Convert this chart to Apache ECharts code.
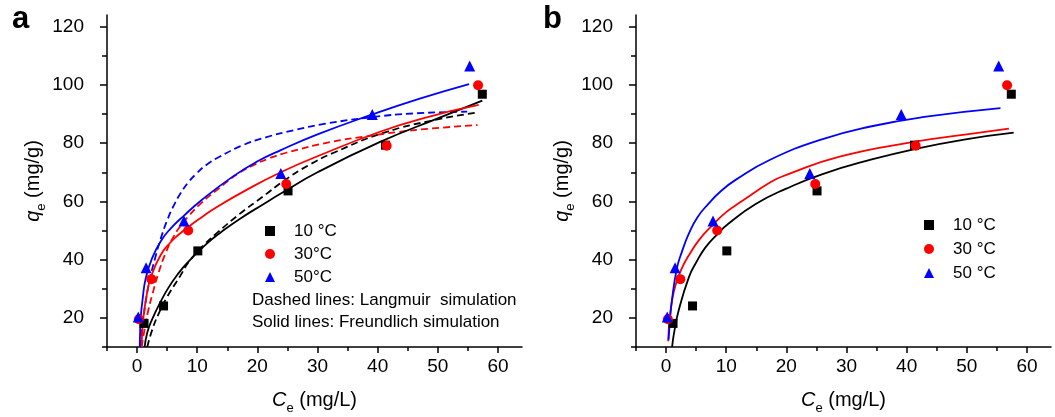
<!DOCTYPE html>
<html>
<head>
<meta charset="utf-8">
<script src="https://cdn.jsdelivr.net/npm/echarts@6/dist/echarts.min.js"></script>
<style>
html,body{margin:0;padding:0;background:#fff;}
#chart{width:1055px;height:417px;}
</style>
</head>
<body>
<div id="chart"></div>
<script>
// ---- tick labels ----
const xMajorTicks = [0, 10, 20, 30, 40, 50, 60];
const xMinorTicks = [-5, 5, 15, 25, 35, 45, 55];
const yMajorTicks = [20, 40, 60, 80, 100, 120];
const yMinorTicks = [10, 30, 50, 70, 90, 110];

// ---- experimental data (Ce mg/L, qe mg/g) ----
const ce10 = [1.16, 4.4, 10.1, 25.1, 41.3, 57.4];
const qe10 = [18.1, 24.1, 43.0, 63.6, 79.3, 96.8];
const ce30 = [0.3, 2.37, 8.5, 24.8, 41.5, 56.7];
const qe30 = [19.5, 33.3, 50.0, 66.0, 79.1, 99.9];
const ce50 = [0.2, 1.5, 7.8, 23.9, 39.1, 55.3];
const qe50 = [20.3, 37.2, 53.3, 69.6, 89.8, 106.5];

// ---- panel a: Langmuir simulation curves (dashed) ----
const langA10 = [[1.7,10],[2.5,15.8],[3.6,21.5],[5,27.2],[7.2,34.5],[8.7,39.5],[11,44.8],[13.2,49],[17,55.6],[20.9,61.6],[24.5,67.2],[28.5,72.4],[32.8,76.8],[41.1,83.6],[49.4,87.9],[56.8,90.6]];
const langA30 = [[0.75,10],[1.2,15.5],[1.8,22],[2.6,28.5],[3.5,35],[4.7,42],[6.1,48],[7.5,52.3],[8.5,54.8],[10.7,59.5],[13.2,63.8],[15.1,67],[17,69.8],[19.2,72.3],[22,74.8],[24.8,76.7],[32.2,80.4],[37.7,82.2],[43.3,83.8],[48.8,85],[56.6,86.2]];
const langA50 = [[0.55,10],[0.9,17],[1.43,25.5],[2.2,34],[3,40.5],[3.9,47],[5.1,54],[6.2,59],[7.3,63],[8.5,66.5],[9.8,69.4],[11.5,72.5],[13.7,75.3],[17.6,79.3],[21.4,82],[26,84.4],[31.1,86.6],[39.4,89],[46,90.2],[54.9,90.8]];

// ---- panel a: Freundlich simulation curves (solid) ----
const freuA10 = [[1.26,10],[1.7,15],[2.5,19.5],[3.9,25.5],[5.2,30.3],[6.7,34.8],[8.3,38.8],[11.5,45.3],[14,49.5],[17,53.9],[21.2,59.3],[23.9,62.7],[30,70],[40.5,80.5],[50,88.5],[57.4,94.6]];
const freuA30 = [[0.75,10],[0.85,15],[1.1,21],[1.7,29],[2.3,34],[3.9,41.5],[5.5,45.8],[6.7,48.2],[8.5,51.2],[10.7,54.5],[13.2,58],[18.5,64.3],[23.9,70],[30,75.5],[40.5,84],[48,88.8],[56.8,93.1]];
const freuA50 = [[0.45,10],[0.5,15],[0.6,20],[0.9,26],[1.43,33.5],[2.5,40.5],[4,46.5],[5.5,50.5],[7.9,55.3],[10.7,60.4],[15.9,68.5],[19.8,73.5],[23.9,77.6],[30,83],[38.9,89.7],[47,95.3],[55.2,100.3]];

// ---- panel b: fitted curves (solid) ----
const fitB10 = [[1.0,10],[1.3,14.5],[2.1,22.6],[3.8,34],[5,39],[6.55,44.2],[8.5,48.7],[10.4,52.4],[14.9,59.1],[19.9,64.3],[25.9,69.3],[34.2,74.4],[41.4,78],[49.8,81.3],[57.8,83.6]];
const fitB30 = [[0.35,12],[0.6,20],[1,26],[1.55,31],[2.5,36.5],[3.8,41.5],[5.5,46.8],[7.7,51.8],[10,56.3],[12.7,60.2],[17.55,66.8],[19.9,69],[28.7,75.3],[41.4,80.5],[50,83],[57,85]];
const fitB50 = [[0.42,12.5],[0.6,18],[1,26.5],[1.8,37],[2.6,42.5],[3.8,49],[5.2,54.5],[7.1,59.3],[9,63.3],[11.5,67.3],[17.3,74.3],[25.9,81.3],[34.2,85.8],[42.6,88.9],[55.6,92]];

const legendA = ['10 °C', '30°C', '50°C'];
const legendB = ['10 °C', '30 °C', '50 °C'];

const FONT = 'Liberation Sans, Arial, sans-serif';
const BLACK = '#000000', RED = '#ff0000', BLUE = '#0000ff';

function zip(xs, ys) { return xs.map((x, i) => [x, ys[i]]); }

const nameRich = {
  i: { fontStyle: 'italic', fontSize: 20, color: '#000', fontFamily: FONT, verticalAlign: 'bottom', padding: [0, 0, 5, 0] },
  s: { fontSize: 13, color: '#000', fontFamily: FONT, verticalAlign: 'bottom' },
  n: { fontSize: 20, color: '#000', fontFamily: FONT, verticalAlign: 'bottom', padding: [0, 0, 5, 0] }
};

function mainX(g) {
  return {
    type: 'value', gridIndex: g, min: -5, max: 64, position: 'bottom',
    splitLine: { show: false },
    axisLine: { onZero: false, lineStyle: { color: BLACK, width: 1.5 } },
    axisTick: { customValues: xMajorTicks, length: 6, lineStyle: { color: BLACK, width: 1.5 } },
    axisLabel: { customValues: xMajorTicks, color: BLACK, fontSize: 19, fontFamily: FONT, margin: 10 },
    name: '{i|C}{s|e}{n| (mg/L)}', nameLocation: 'middle', nameGap: 43,
    nameTextStyle: { rich: nameRich }
  };
}
function minorX(g) {
  return {
    type: 'value', gridIndex: g, min: -5, max: 64, position: 'bottom', offset: 0,
    splitLine: { show: false },
    axisLine: { show: false, onZero: false },
    axisTick: { customValues: xMinorTicks, length: 4, lineStyle: { color: BLACK, width: 1.5 } },
    axisLabel: { show: false }
  };
}
function mainY(g) {
  return {
    type: 'value', gridIndex: g, min: 10, max: 124, position: 'left',
    splitLine: { show: false },
    axisLine: { onZero: false, lineStyle: { color: BLACK, width: 1.5 } },
    axisTick: { customValues: yMajorTicks, length: 7, lineStyle: { color: BLACK, width: 1.5 } },
    axisLabel: { customValues: yMajorTicks, color: BLACK, fontSize: 19, fontFamily: FONT, margin: 23 },
    name: '{i|q}{s|e}{n| (mg/g)}', nameLocation: 'middle', nameGap: 41,
    nameTextStyle: { rich: nameRich }
  };
}
function minorY(g) {
  return {
    type: 'value', gridIndex: g, min: 10, max: 124, position: 'left', offset: 0,
    splitLine: { show: false },
    axisLine: { show: false, onZero: false },
    axisTick: { customValues: yMinorTicks, length: 5, lineStyle: { color: BLACK, width: 1.5 } },
    axisLabel: { show: false }
  };
}

function scatter(name, xi, yi, symbol, size, color, data) {
  return { type: 'scatter', name: name, xAxisIndex: xi, yAxisIndex: yi, symbol: symbol, symbolSize: size,
    itemStyle: { color: color, opacity: 1 }, data: data, z: 5, silent: true };
}
function curve(name, xi, yi, color, dashed, data) {
  return { type: 'line', name: name, xAxisIndex: xi, yAxisIndex: yi, data: data, showSymbol: false,
    smooth: 0.5, clip: true, silent: true, z: 3,
    lineStyle: { color: color, width: 1.8, type: dashed ? [7, 4] : 'solid' } };
}

const series = [
  curve('L10a', 0, 0, BLACK, true, langA10),
  curve('L30a', 0, 0, RED, true, langA30),
  curve('L50a', 0, 0, BLUE, true, langA50),
  curve('F10a', 0, 0, BLACK, false, freuA10),
  curve('F30a', 0, 0, RED, false, freuA30),
  curve('F50a', 0, 0, BLUE, false, freuA50),
  scatter(legendA[0], 0, 0, 'rect', 9, BLACK, zip(ce10, qe10)),
  scatter(legendA[1], 0, 0, 'circle', 10, RED, zip(ce30, qe30)),
  scatter(legendA[2], 0, 0, 'triangle', 11, BLUE, zip(ce50, qe50)),
  curve('T10b', 2, 2, BLACK, false, fitB10),
  curve('T30b', 2, 2, RED, false, fitB30),
  curve('T50b', 2, 2, BLUE, false, fitB50),
  scatter(legendB[0], 2, 2, 'rect', 9, BLACK, zip(ce10, qe10)),
  scatter(legendB[1], 2, 2, 'circle', 10, RED, zip(ce30, qe30)),
  scatter(legendB[2], 2, 2, 'triangle', 11, BLUE, zip(ce50, qe50))
];

function legend(data, left, top, gap) {
  return { data: data, left: left, top: top, orient: 'vertical', padding: 0,
    itemWidth: 10, itemHeight: 10, itemGap: gap, selectedMode: false,
    textStyle: { fontSize: 17, color: BLACK, fontFamily: FONT, lineHeight: 18, padding: [0, 0, 0, 14] } };
}

const option = {
  animation: false,
  backgroundColor: '#fff',
  grid: [
    { left: 107, top: 15, width: 415, height: 332, outerBoundsMode: 'none', containLabel: false },
    { left: 636, top: 15, width: 415, height: 332, outerBoundsMode: 'none', containLabel: false }
  ],
  xAxis: [mainX(0), minorX(0), mainX(1), minorX(1)],
  yAxis: [mainY(0), minorY(0), mainY(1), minorY(1)],
  legend: [legend(legendA, 265, 222, 5), legend(legendB, 924, 216, 6)],
  graphic: [
    { type: 'text', left: 12, top: 4, style: { text: 'a', font: 'bold 31px ' + FONT, fill: BLACK } },
    { type: 'text', left: 543, top: 4, style: { text: 'b', font: 'bold 31px ' + FONT, fill: BLACK } },
    { type: 'text', left: 252, top: 292, style: { text: 'Dashed lines: Langmuir  simulation', font: '17px ' + FONT, fill: BLACK } },
    { type: 'text', left: 252, top: 314, style: { text: 'Solid lines: Freundlich simulation', font: '17px ' + FONT, fill: BLACK } }
  ],
  series: series
};

const chart = echarts.init(document.getElementById('chart'), null, { renderer: 'canvas' });
chart.setOption(option);
</script>
</body>
</html>
